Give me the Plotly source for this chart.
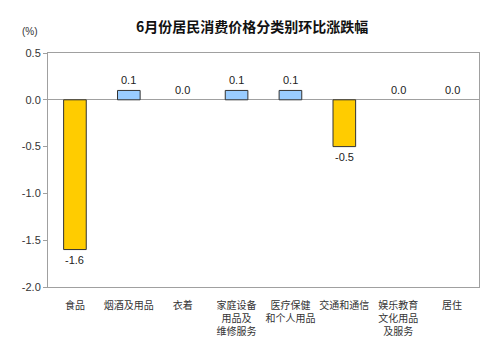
import plotly.graph_objects as go

categories = ["食品", "烟酒及用品", "衣着", "家庭设备<br>用品及<br>维修服务",
              "医疗保健<br>和个人用品", "交通和通信", "娱乐教育<br>文化用品<br>及服务", "居住"]
values = [-1.6, 0.1, 0.0, 0.1, 0.1, -0.5, 0.0, 0.0]
y_ticks = [0.5, 0.0, -0.5, -1.0, -1.5, -2.0]

font_family = "Liberation Sans, Arial, Noto Sans CJK SC"
colors = ["#FFCC00" if v < 0 else "#99CCFF" for v in values]
line_widths = [0 if v == 0 else 1 for v in values]

fig = go.Figure()
fig.add_trace(go.Bar(
    x=categories, y=values, width=0.42,
    marker=dict(color=colors, line=dict(color="#333333", width=line_widths)),
    hoverinfo="skip", showlegend=False,
))

value_labels = []
for c, v in zip(categories, values):
    value_labels.append(dict(
        x=c, y=v, xref="x", yref="y", text=f"{v:.1f}", showarrow=False,
        yanchor="middle", yshift=(-10 if v < 0 else 10),
        font=dict(family=font_family, size=11, color="#222222"),
    ))

fig.update_layout(
    width=492, height=351,
    margin=dict(l=40, r=21, t=45, b=72),
    paper_bgcolor="white", plot_bgcolor="white",
    title=dict(text="6月份居民消费价格分类别环比涨跌幅", x=0.496, xanchor="center",
               y=0.946, yanchor="middle",
               font=dict(family="Noto Sans CJK SC", size=14, color="#111111", weight="bold")),
    font=dict(family=font_family, size=10, color="#333333"),
    xaxis=dict(showgrid=False, showline=True, linecolor="#A0A0A0", mirror=True,
               ticks="", ticklabelstandoff=9,
               tickfont=dict(family="Noto Sans CJK SC", size=10, color="#333333"),
               fixedrange=True, zeroline=False),
    yaxis=dict(range=[-2.0, 0.5], tickvals=y_ticks, ticktext=[f"{t:.1f}" for t in y_ticks],
               showgrid=False, showline=True, linecolor="#A0A0A0", mirror=True,
               ticks="outside", ticklen=4, tickcolor="#A0A0A0",
               zeroline=True, zerolinecolor="#A0A0A0", zerolinewidth=1,
               tickfont=dict(family=font_family, size=11, color="#333333"), fixedrange=True),
    annotations=value_labels + [dict(text="(%)", xref="paper", yref="paper", x=-0.019, y=1.094,
                      xanchor="right", yanchor="middle", showarrow=False,
                      font=dict(family=font_family, size=10, color="#333333"))],
)

fig.write_html("out.html")
